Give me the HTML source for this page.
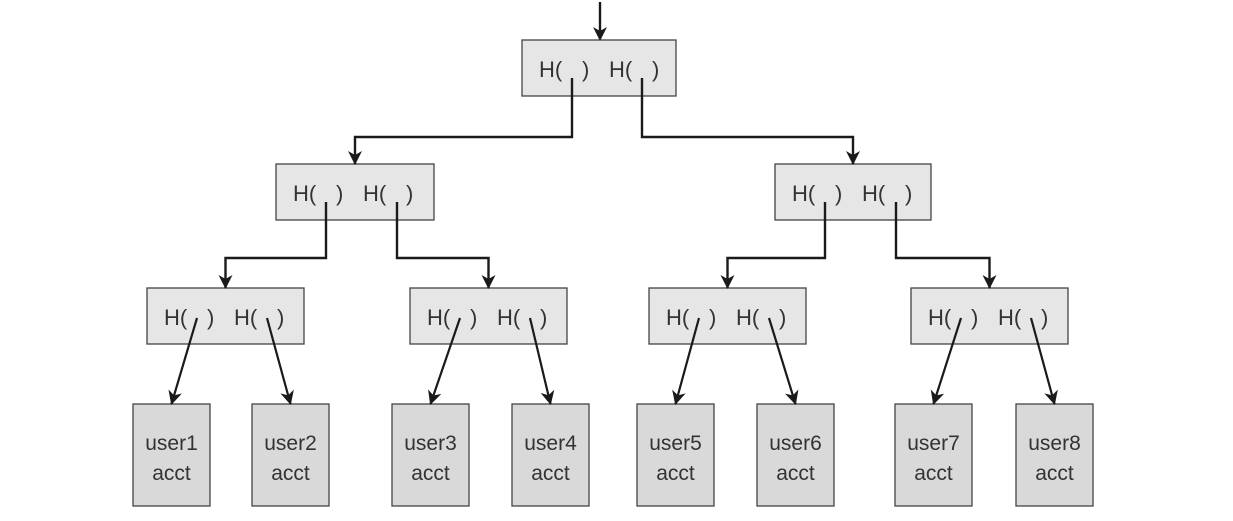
<!DOCTYPE html>
<html><head><meta charset="utf-8"><style>
html,body{margin:0;padding:0;background:#fff;}
svg{display:block;}
text{font-family:"Liberation Sans","DejaVu Sans",sans-serif;fill:#333;}
</style></head><body>
<svg id="c" width="1233" height="521" viewBox="0 0 1233 521" xmlns="http://www.w3.org/2000/svg">
<defs><marker id="ah" markerWidth="14" markerHeight="14" refX="13" refY="7" orient="auto" markerUnits="userSpaceOnUse"><path d="M0,0 L14,7 L0,14 L4,7 Z" fill="#1a1a1a"/></marker></defs>
</svg>
<script>
const NS='http://www.w3.org/2000/svg';
const svgRoot=document.getElementById('c');
function el(t,a){const e=document.createElementNS(NS,t);for(const k in a)e.setAttribute(k,a[k]);svgRoot.appendChild(e);return e;}
// hash node boxes: [x, y, w]
const hashNodes=[[522,40,154],[276,164,158],[775,164,156],[147,288,157],[410,288,157],[649,288,157],[911,288,157]];
const leafX=[133,252,392,512,637,757,895,1016];
const leafLabels=['user1','user2','user3','user4','user5','user6','user7','user8'];
const rootArrow=el('line',{x1:600,y1:2,x2:600,y2:40,stroke:'#1a1a1a','stroke-width':2.4,'marker-end':'url(#ah)'});


function elbow(x1,y1,x2,yh,y2,name){
  const p=el('path',{d:`M${x1},${y1} V${yh} H${x2} V${y2}`,fill:'none',stroke:'#1a1a1a','stroke-width':2.4,'marker-end':'url(#ah)'});
  
  
}
hashNodes.forEach((n,i)=>{
  const [x,y,w]=n;
  const r=el('rect',{x:x,y:y,width:w,height:56,fill:'#e6e6e6',stroke:'#444','stroke-width':1.3});
  
  
  const t1=el('text',{x:x+17,y:y+37,'font-size':22});t1.textContent='H(';
  
  
  const t2=el('text',{x:x+60,y:y+37,'font-size':22});t2.textContent=')';
  
  
  const t3=el('text',{x:x+87,y:y+37,'font-size':22});t3.textContent='H(';
  
  
  const t4=el('text',{x:x+130,y:y+37,'font-size':22});t4.textContent=')';
  
  
});
function ctr(n){return n[0]+n[2]/2;}
elbow(572,78,ctr(hashNodes[1]),137,164,'edge-root-left');
elbow(642,78,ctr(hashNodes[2]),137,164,'edge-root-right');
[[1,3,4],[2,5,6]].forEach(([p,a,b])=>{
  const n=hashNodes[p];
  elbow(n[0]+50,n[1]+38,ctr(hashNodes[a]),258,288,'edge-l2-left');
  elbow(n[0]+121,n[1]+38,ctr(hashNodes[b]),258,288,'edge-l2-right');
});
leafX.forEach((x,i)=>{
  const r=el('rect',{x:x,y:404,width:77,height:102,fill:'#d9d9d9',stroke:'#444','stroke-width':1.3});
  
  
  const t=el('text',{x:x+38.5,y:450,'font-size':21,'text-anchor':'middle'});t.textContent=leafLabels[i];
  
  
  const t2=el('text',{x:x+38.5,y:480,'font-size':21,'text-anchor':'middle'});t2.textContent='acct';
  
  
  const n=hashNodes[3+Math.floor(i/2)];
  const sx=n[0]+(i%2? 120:50), sy=n[1]+30;
  const a=el('line',{x1:sx,y1:sy,x2:x+38.5,y2:404,stroke:'#1a1a1a','stroke-width':2.2,'marker-end':'url(#ah)'});
  
  
});
</script>
</body></html>
